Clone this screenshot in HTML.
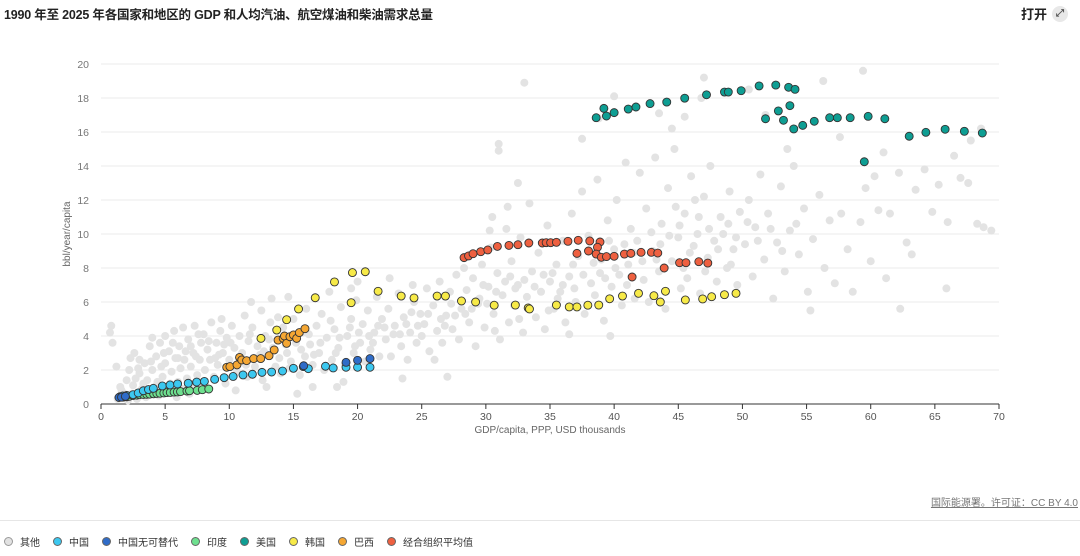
<!DOCTYPE html>
<html><head><meta charset="utf-8">
<style>
body{margin:0;width:1080px;height:556px;background:#fff;font-family:"Liberation Sans","Noto Sans CJK SC",sans-serif;overflow:hidden;position:relative;color:#222}
#title{position:absolute;left:4px;top:4px;font-size:12.5px;font-weight:bold;letter-spacing:-0.2px}
#open{position:absolute;right:12px;top:4px;font-size:13px;font-weight:bold;display:flex;align-items:center;gap:5px}
#open span.ic{display:inline-block;width:16px;height:16px;border-radius:8px;background:#e8e8e8;font-size:10px;text-align:center;line-height:16px;color:#555}
#src{position:absolute;right:2px;top:494px;font-size:10px;color:#777;text-decoration:underline}
#sep{position:absolute;left:0;right:0;top:520px;height:1px;background:#e6e6e6}
#legend{position:absolute;left:4px;top:534px;font-size:10px;display:flex;gap:0;color:#333}
.li{display:flex;align-items:center;margin-right:13px}
.li i{display:inline-block;width:7px;height:7px;border-radius:50%;margin-right:7px;border:0.6px solid #666}
</style></head><body>
<div id="title">1990 年至 2025 年各国家和地区的 GDP 和人均汽油、航空煤油和柴油需求总量</div>
<div id="open">打开 <span class="ic">⤢</span></div>
<svg id="chart" width="1080" height="556" style="position:absolute;left:0;top:0"></svg>
<div id="src">国际能源署。许可证：CC BY 4.0</div>
<div id="sep"></div>
<div id="legend">
<div class="li"><i style="background:#e2e2e2;border-color:#999"></i>其他</div>
<div class="li"><i style="background:#3cc8f0"></i>中国</div>
<div class="li"><i style="background:#2f6cc8"></i>中国无可替代</div>
<div class="li"><i style="background:#6ee08f"></i>印度</div>
<div class="li"><i style="background:#0e9e93"></i>美国</div>
<div class="li"><i style="background:#f7ea48"></i>韩国</div>
<div class="li"><i style="background:#f5a733"></i>巴西</div>
<div class="li"><i style="background:#ee6040"></i>经合组织平均值</div>
</div>
<script>
const xTicks=[0,5,10,15,20,25,30,35,40,45,50,55,60,65,70];
const yTicks=[0,2,4,6,8,10,12,14,16,18,20];
const otherPts=[[0.8,4.6],[0.7,4.2],[0.9,3.6],[1.2,2.2],[1.5,1.0],[1.8,0.6],[2,1.4],[2.2,2.0],[2.5,1.1],[2.8,0.3],[2.6,3.0],[3,1.8],[3.2,0.9],[3.4,2.4],[2.1,0.2],[1.3,0.3],[3.6,1.4],
[3.8,3.4],[4,2.0],[4.2,1.0],[4.3,2.8],[4.6,3.6],[4.8,1.6],[5,2.4],[5.2,0.8],[5.3,3.1],[5.5,1.9],[5.7,4.3],[5.8,2.7],[6,1.3],[6.1,3.4],[6.2,2.1],[3.5,0.4],[4.5,0.5],[5.9,0.4],[4,3.9],[5,4.0],[6.4,4.5],[3,2.6],[2.3,2.7],
[1.6,0.8],[2.4,0.6],[3.1,0.5],[3.7,0.7],[4.4,1.3],[5.4,1.2],[6.3,0.9],[7.1,1.1],[7.9,1.3],[2.7,1.5],[3.3,1.2],
[6.5,2.6],[6.7,1.5],[6.8,3.8],[7,2.2],[7.2,3.0],[7.3,4.6],[7.5,1.7],[7.7,2.6],[7.8,3.6],[8,4.1],[8.1,2.0],[8.3,3.2],[8.5,2.6],[8.6,4.8],[8.8,1.6],[9,3.6],[9.1,2.3],[9.3,4.3],[9.5,3.0],[9.7,1.2],[9.8,3.9],[10,2.6],[6.9,0.6],[8.2,1.0],[9.4,5.0],[7.6,4.1],
[10.2,4.6],[10.4,3.3],[10.6,1.9],[10.8,4.0],[11,3.0],[11.2,5.2],[11.4,1.6],[11.5,3.7],[11.8,4.5],[12,2.2],[12.2,3.4],[12.5,5.5],[12.6,1.4],[12.8,4.0],[13,2.9],[13.2,4.8],[13.4,3.3],[13.6,2.2],[13.8,5.1],[14,1.8],[14.2,4.5],[14.5,3.0],[14.6,6.3],[14.8,2.5],[15,5.0],[15.2,3.6],[15.5,1.7],[15.7,4.2],[15.9,2.8],[16,5.6],[11.7,6.0],[13.3,6.2],[10.5,0.8],[12.9,1.0],[15.3,0.6],[14.9,4.0],
[16.3,3.5],[16.5,2.3],[16.8,4.6],[17,3.0],[17.2,5.3],[17.4,2.0],[17.6,3.9],[17.8,6.6],[18,2.6],[18.2,4.4],[18.5,3.3],[18.7,5.7],[18.9,1.3],[19,2.3],[19.2,4.0],[19.5,5.0],[19.7,3.0],[19.9,6.1],[20.2,3.6],[20.4,4.7],[20.6,2.5],[20.8,5.5],[21,3.2],[21.3,4.2],[21.5,6.3],[21.7,2.8],[21.9,5.0],[20,7.2],[18.4,1.0],[16.5,1.0],[19.5,6.8],
[22.2,3.8],[22.4,5.6],[22.6,2.8],[22.9,4.6],[23.2,6.5],[23.4,3.4],[23.6,5.1],[23.9,2.6],[24.1,4.2],[24.4,6.0],[24.6,3.6],[24.9,5.3],[25.2,4.7],[25.4,6.8],[25.6,3.1],[25.9,5.8],[26.2,4.3],[26.4,7.2],[26.6,3.6],[26.9,5.2],[27.2,6.6],[27.4,4.4],[27.7,7.6],[27.9,3.8],[28.1,5.6],[26,2.6],[22.5,7.4],[24.3,7.0],[23.5,1.5],[27.0,1.6],[28.3,8.0],
[28.5,6.7],[28.7,4.8],[29,7.4],[29.2,3.4],[29.4,5.9],[29.7,8.2],[29.9,4.5],[30.2,6.9],[30.4,9.2],[30.6,5.3],[30.9,7.7],[31.1,3.8],[31.3,6.4],[31.6,10.3],[31.8,4.8],[32,8.4],[32.2,5.8],[32.5,7.0],[32.7,9.8],[32.9,4.2],[33.2,6.3],[33.4,11.8],[33.6,7.8],[33.9,5.1],[34.1,8.9],[34.3,6.6],[34.6,4.4],[34.8,10.5],[35,7.2],[30.5,11.0],[31.7,11.6],[32.5,13.0],[31,15.3],[31,14.9],[33,18.9],[30.3,10.2],
[35.3,5.6],[35.5,8.2],[35.8,6.6],[36,9.6],[36.2,4.8],[36.5,7.5],[36.7,11.2],[37,6.0],[37.2,8.7],[37.5,12.5],[37.7,5.3],[38,9.9],[38.2,7.1],[38.5,6.4],[38.7,13.2],[39,8.5],[39.2,4.9],[39.5,10.8],[39.8,6.9],[40,9.1],[40.2,12.0],[40.4,7.6],[40.6,5.8],[40.9,14.2],[41.1,8.2],[41.3,10.3],[41.6,6.2],[41.8,9.6],[42,13.6],[37.5,15.6],[38.8,16.8],[40,18.1],[36.5,4.1],[39.7,4.0],
[42.3,7.3],[42.5,11.5],[42.7,6.0],[43,9.0],[43.2,14.5],[43.5,7.8],[43.7,10.6],[44,5.6],[44.2,12.7],[44.5,8.4],[44.7,15.0],[45,9.8],[45.2,6.8],[45.5,11.2],[45.7,7.4],[46,13.4],[46.2,9.3],[46.5,10.0],[46.7,6.5],[47,12.2],[47.3,8.6],[47.5,14.0],[47.8,9.6],[48,7.2],[48.3,11.0],[48.5,10.0],[48.8,8.0],[49,12.5],[49.3,9.1],[49.6,7.0],[49.8,11.3],[44.5,16.2],[46.8,18.0],[47,19.2],[43.5,17.1],[45.5,16.9],
[50.2,9.4],[50.5,12.0],[50.8,7.5],[51,10.4],[51.4,13.5],[51.7,8.5],[52,11.2],[52.4,6.2],[52.7,9.5],[53,12.8],[53.3,7.8],[53.7,10.2],[54,14.0],[54.4,8.8],[54.8,11.5],[55.1,6.6],[55.5,9.7],[56,12.3],[56.4,8.0],[56.8,10.8],[57.2,7.1],[57.7,11.2],[58.2,9.1],[58.6,6.6],[59.2,10.7],[59.6,12.7],[60,8.4],[55.3,5.5],[53.5,15.0],[51.8,17.0],[50.5,18.5],[59.4,19.6],[57.6,15.7],[56.3,19.0],
[60.3,13.4],[60.6,11.4],[61,14.8],[61.5,11.2],[62.2,13.6],[62.8,9.5],[63.5,12.6],[64.2,13.8],[64.8,11.3],[65.3,12.9],[66,10.7],[66.5,14.6],[67,13.3],[67.6,13.0],[68.3,10.6],[68.8,10.4],[69.4,10.2],[65.9,6.8],[62.3,5.6],[61.2,7.4],[63.2,8.8],[67.8,15.5],[68.6,16.2],
[2.9,2.1],[3.9,2.5],[4.7,2.2],[5.6,3.6],[6.6,3.1],[7.4,2.8],[8.4,3.7],[9.2,2.9],[10.1,3.6],[10.9,2.5],[11.6,4.1],[12.4,2.9],[13.1,3.8],[13.9,2.7],[14.4,3.5],[15.6,3.2],[16.2,4.1],[17.1,3.6],[17.9,4.9],[18.6,3.9],[19.4,4.5],[20.1,4.2],[20.9,4.0],[21.6,4.6],[22.8,4.1],[23.8,4.7],[24.7,4.6],[25.5,5.3],[26.5,5.0],[27.6,5.2],[28.4,5.3],[29.5,6.2],[30.1,5.9],[30.8,6.6],[31.5,7.2],[32.3,6.8],[33,7.3],[33.8,6.9],[34.5,7.6],[35.2,7.7],[36,7.0],[36.8,8.2],[37.6,7.6],[38.4,8.3],[39.3,7.4],[40.1,8.0],[40.8,9.4],[41.5,8.9],[42.2,8.4],[42.9,10.1],[43.6,9.4],[44.3,9.9],[45.1,10.5],[45.9,8.9],[46.6,11.0],[47.4,10.3],[48.1,9.1],[48.9,10.6],[49.5,9.8],[50.4,10.7],[51.2,9.6],[52.2,10.3],[53.1,9.0],[54.2,10.6],[30.7,4.3],[32.6,5.0],[34.9,5.5],[36.9,6.8],[38.9,7.7],[41,7.0],[43.3,8.5],[45.4,8.0],[47.1,7.8],[49.1,8.2],[6.0,2.7],[8.9,2.7],[11.3,2.3],[12.7,3.1],[14.7,2.1],[16.6,2.9],[18.3,3.0],[19.8,3.4],[21.2,3.6],[22.1,4.5],[23.3,4.1],[25.0,4.0],[26.8,4.6],[28.9,5.6],[4.9,3.0],[7.0,3.4],[9.6,3.5],[27.3,5.9],[24.2,5.4],[29.8,7.0],[31.9,7.5],[35.6,6.2],[39.6,9.6],[44.8,11.6],[46.3,12.0]];
const indiaPts=[[1.7,0.4],[2.0,0.42],[2.2,0.45],[2.5,0.5],[2.8,0.52],[3.0,0.55],[3.3,0.56],[3.56,0.57],[3.8,0.58],[4.1,0.6],[4.35,0.62],[4.6,0.63],[4.9,0.65],[5.14,0.67],[5.4,0.68],[5.7,0.7],[5.95,0.71],[6.2,0.73],[6.7,0.76],[6.9,0.78],[7.5,0.8],[7.9,0.84],[8.4,0.88]];
const chinaPts=[[1.48,0.43],[1.7,0.47],[2.0,0.5],[2.5,0.55],[2.9,0.65],[3.3,0.78],[3.7,0.85],[4.08,0.92],[4.78,1.06],[5.38,1.12],[5.97,1.18],[6.8,1.22],[7.46,1.29],[8.06,1.33],[8.86,1.45],[9.6,1.55],[10.3,1.62],[11.07,1.71],[11.8,1.75],[12.55,1.86],[13.3,1.88],[14.15,1.94],[15.0,2.1],[15.77,2.2],[16.16,2.08],[17.5,2.22],[18.1,2.12],[19.1,2.16],[20.0,2.16],[20.97,2.16]];
const chinaAltPts=[[1.4,0.38],[1.6,0.4],[1.9,0.45],[15.8,2.25],[19.1,2.45],[20.0,2.57],[20.97,2.67]];
const usaPts=[[38.6,16.84],[39.2,17.39],[39.4,16.94],[40.0,17.14],[41.1,17.35],[41.7,17.47],[42.8,17.67],[44.1,17.76],[45.5,17.99],[47.2,18.19],[48.6,18.35],[48.9,18.35],[49.9,18.43],[51.3,18.71],[52.6,18.76],[53.6,18.63],[54.1,18.51],[51.8,16.78],[52.8,17.24],[53.2,16.69],[53.7,17.55],[54.0,16.18],[54.7,16.39],[55.6,16.63],[56.8,16.84],[57.4,16.84],[58.4,16.84],[59.8,16.92],[61.1,16.78],[63.0,15.75],[64.3,15.98],[65.8,16.16],[67.3,16.04],[68.7,15.94],[59.5,14.25]];
const koreaPts=[[12.47,3.86],[13.7,4.35],[14.47,4.96],[15.4,5.59],[16.7,6.25],[18.2,7.18],[19.6,7.73],[20.6,7.78],[19.5,5.96],[21.6,6.63],[23.4,6.35],[24.4,6.24],[26.2,6.35],[26.85,6.35],[28.1,6.06],[29.2,6.0],[30.65,5.81],[32.3,5.82],[33.3,5.65],[33.4,5.59],[35.5,5.82],[36.5,5.71],[37.1,5.71],[37.95,5.81],[38.8,5.82],[39.65,6.19],[40.65,6.35],[41.9,6.51],[43.1,6.37],[43.6,6.0],[44.0,6.63],[45.55,6.12],[46.9,6.18],[47.6,6.31],[48.6,6.43],[49.5,6.51]];
const brazilPts=[[9.8,2.16],[10.05,2.2],[10.6,2.3],[10.8,2.74],[10.97,2.59],[11.35,2.55],[11.9,2.67],[12.45,2.67],[13.1,2.84],[13.5,3.18],[13.8,3.76],[14.2,3.86],[14.3,4.0],[14.47,3.57],[14.73,3.96],[15.0,4.06],[15.25,3.86],[15.46,4.2],[15.9,4.43]];
const oecdPts=[[28.3,8.61],[28.65,8.71],[29.0,8.84],[29.6,8.96],[30.15,9.06],[30.9,9.27],[31.8,9.33],[32.5,9.37],[33.35,9.47],[34.4,9.47],[34.7,9.49],[35.05,9.49],[35.5,9.51],[36.4,9.57],[37.2,9.63],[38.1,9.59],[38.9,9.53],[38.7,9.22],[37.1,8.86],[38.0,9.0],[38.6,8.82],[39.0,8.63],[39.4,8.67],[40.0,8.69],[40.8,8.82],[41.3,8.86],[42.1,8.92],[42.9,8.92],[43.4,8.88],[43.9,8.0],[41.4,7.47],[45.1,8.31],[45.6,8.31],[46.6,8.37],[47.3,8.29]];

const NS='http://www.w3.org/2000/svg';
const svg=document.getElementById('chart');
const X0=101,X1=999,Y0=404,Y1=64;
function xs(v){return X0+(v-0)/(70-0)*(X1-X0);}
function ys(v){return Y0-(v-0)/(20-0)*(Y0-Y1);}
function mk(tag,attrs,parent){const e=document.createElementNS(NS,tag);for(const k in attrs)e.setAttribute(k,attrs[k]);(parent||svg).appendChild(e);return e;}
const font='"Liberation Sans","Noto Sans CJK SC",sans-serif';
yTicks.forEach(t=>{
  const g=mk('line',{x1:X0,x2:X1,y1:ys(t),y2:ys(t),stroke:'#ebebeb','stroke-width':1});
  
  
  const tx=mk('text',{x:89,y:ys(t)+4,'text-anchor':'end','font-size':10.5,fill:'#777','font-family':font});
  tx.textContent=t;
  
  
});
const ax=mk('line',{x1:X0,x2:X1,y1:Y0,y2:Y0,stroke:'#333','stroke-width':1});


xTicks.forEach(t=>{
  const tk=mk('line',{x1:xs(t),x2:xs(t),y1:Y0,y2:Y0+5,stroke:'#333','stroke-width':1});
  
  
  const tx=mk('text',{x:xs(t),y:Y0+16,'text-anchor':'middle','font-size':10.5,fill:'#555','font-family':font});
  tx.textContent=t;
  
  
});
const xt=mk('text',{x:550,y:433,'text-anchor':'middle','font-size':10,fill:'#666','font-family':font});
xt.textContent='GDP/capita, PPP, USD thousands';


const yt=mk('text',{x:0,y:0,'text-anchor':'middle','font-size':10,fill:'#666','font-family':font,transform:'translate(70,234) rotate(-90)'});
yt.textContent='bbl/year/capita';



function draw(pts,fill,stroke,name){
  pts.forEach(p=>{
    const c=mk('circle',{cx:xs(p[0]),cy:ys(p[1]),r:4,fill:fill,stroke:stroke,'stroke-width':stroke=='none'?0:0.9});
    
    
  });
}
draw(otherPts,'#e3e3e3','none','point-other');
draw(indiaPts,'#6ee08f','#333','point-india');
draw(chinaPts,'#3cc8f0','#333','point-china');
draw(chinaAltPts,'#2f6cc8','#333','point-china-alt');
draw(brazilPts,'#f5a733','#333','point-brazil');
draw(koreaPts,'#f7ea48','#333','point-korea');
draw(oecdPts,'#ee6040','#333','point-oecd');
draw(usaPts,'#0e9e93','#333','point-usa');
</script>
</body></html>
